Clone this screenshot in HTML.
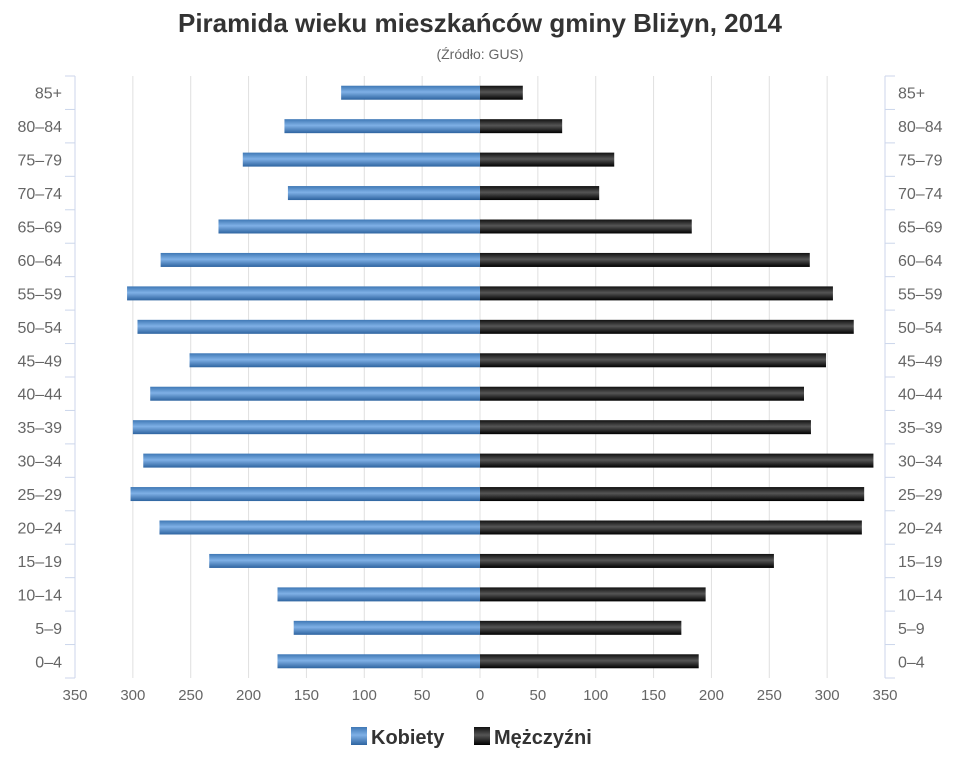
<!DOCTYPE html>
<html><head><meta charset="utf-8"><style>
body{margin:0;background:#fff;width:960px;height:768px;overflow:hidden;font-family:"Liberation Sans",sans-serif}
</style></head><body>
<svg id="chart" width="960" height="768" xmlns="http://www.w3.org/2000/svg">
<defs>
<linearGradient id="gb" x1="0" y1="0" x2="0" y2="1"><stop offset="0" stop-color="#3f78b5"/><stop offset="0.45" stop-color="#7fb0e6"/><stop offset="1" stop-color="#2e64a0"/></linearGradient>
<linearGradient id="gk" x1="0" y1="0" x2="0" y2="1"><stop offset="0" stop-color="#111"/><stop offset="0.45" stop-color="#555"/><stop offset="1" stop-color="#000"/></linearGradient>
</defs>
<text x="480" y="32" text-anchor="middle" font-size="26" font-weight="bold" fill="#333">Piramida wieku mieszkańców gminy Bliżyn, 2014</text>
<text x="480" y="59" text-anchor="middle" font-size="14" fill="#666">(Źródło: GUS)</text>
<g id="grid"></g><g id="bars"></g><g id="axes"></g>
<g>
<g><rect x="351" y="727" width="16" height="18" fill="url(#gb)"/><text x="371" y="744" font-size="20" font-weight="bold" fill="#333">Kobiety</text></g>
<g><rect x="474" y="727" width="16" height="18" fill="url(#gk)"/><text x="494" y="744" font-size="20" font-weight="bold" fill="#333">Mężczyźni</text></g>
</g>
</svg>
<script>
const categories=["85+","80-84","75-79","70-74","65-69","60-64","55-59","50-54","45-49","40-44","35-39","30-34","25-29","20-24","15-19","10-14","5-9","0-4"];
const women=[120,169,205,166,226,276,305,296,251,285,300,291,302,277,234,175,161,175];
const men=[37,71,116,103,183,285,305,323,299,280,286,340,332,330,254,195,174,189];
const ticks=[350,300,250,200,150,100,50,0,50,100,150,200,250,300,350];
const NS="http://www.w3.org/2000/svg";
const cx=480,L=75,R=885,plotTop=76,plotBot=678,k=(R-cx)/350;
const xr=v=>cx+v*k, xl=v=>cx-v*k;
const band=(plotBot-plotTop)/categories.length;
const yc=i=>plotTop+band*(i+0.5);
function mk(p,tag,a){const e=document.createElementNS(NS,tag);for(const q in a)e.setAttribute(q,a[q]);document.getElementById(p).appendChild(e);return e;}
ticks.forEach((t,i)=>{const x=i<7?xl(t):xr(t);
 const g=mk("grid","line",{x1:x,x2:x,y1:plotTop,y2:plotBot,stroke:"#e0e0e0","stroke-width":1});
 
 
 const tx=mk("axes","text",{x:x,y:700,"text-anchor":"middle","font-size":15,fill:"#666"});tx.textContent=t;
 
 
});
mk("axes","line",{x1:L,x2:L,y1:plotTop,y2:plotBot,stroke:"#ccd6eb"});
mk("axes","line",{x1:R,x2:R,y1:plotTop,y2:plotBot,stroke:"#ccd6eb"});
for(let i=0;i<=categories.length;i++){const y=plotTop+band*i;
 mk("axes","line",{x1:L-10,x2:L,y1:y,y2:y,stroke:"#ccd6eb"});
 mk("axes","line",{x1:R,x2:R+10,y1:y,y2:y,stroke:"#ccd6eb"});}
categories.forEach((c,i)=>{
 const a=mk("axes","text",{x:62,y:yc(i)+6,"text-anchor":"end","font-size":16,fill:"#666"});a.textContent=c.replace("-","–");
 
 
 const b=mk("axes","text",{x:898,y:yc(i)+6,"font-size":16,fill:"#666"});b.textContent=c.replace("-","–");
 
 
 const w=mk("bars","rect",{x:xl(women[i]),y:yc(i)-7,width:cx-xl(women[i]),height:14,fill:"url(#gb)"});
 
 
 const m=mk("bars","rect",{x:cx,y:yc(i)-7,width:xr(men[i])-cx,height:14,fill:"url(#gk)"});
 
 
});
</script>
</body></html>
